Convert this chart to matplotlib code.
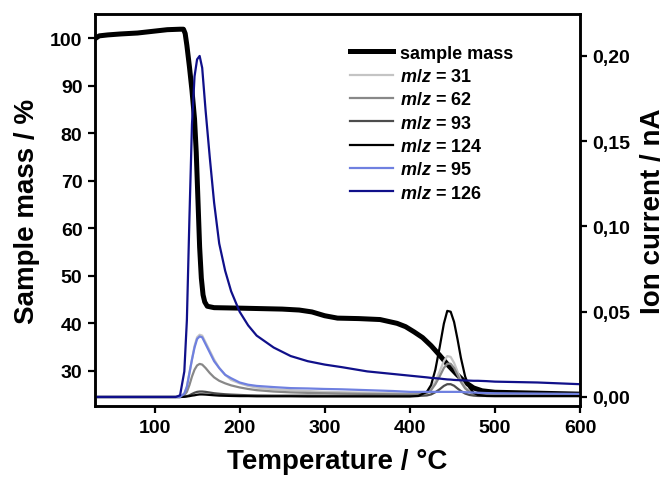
import numpy as np
import matplotlib
matplotlib.use("Agg")
import matplotlib.pyplot as plt

plt.rcParams['font.family'] = ['Liberation Sans', 'DejaVu Sans']
plt.rcParams['font.weight'] = 'bold'
plt.rcParams['mathtext.fontset'] = 'custom'
plt.rcParams['mathtext.it'] = 'Liberation Sans:italic:bold'
plt.rcParams['mathtext.rm'] = 'Liberation Sans:bold'

#
# sample mass (left axis)
#
t_mass = [30, 35, 45, 60, 80, 100, 115, 130, 134, 136, 138, 141, 144, 147, 149, 151, 153, 155,
          157, 159, 162, 170, 200, 250, 270, 285, 300, 315, 340, 365, 385, 395, 405, 415, 425,
          435, 445, 455, 465, 475, 485, 500, 550, 600]
mass = [99.9, 100.5, 100.7, 100.9, 101.1, 101.5, 101.8, 101.9, 101.9, 101.0, 98.5, 94.0, 89.0,
        83.0, 76.0, 66.0, 56.0, 49.5, 46.0, 44.5, 43.6, 43.3, 43.2, 43.0, 42.8, 42.4, 41.6, 41.1,
        41.0, 40.8, 40.0, 39.3, 38.2, 37.0, 35.3, 33.3, 31.2, 29.3, 27.6, 26.4, 25.8, 25.5, 25.3,
        25.1]

#
# ion currents (right axis), shared temperature grid
#
t_ion = [30, 60, 100, 125, 130, 135, 138, 141, 144, 147, 150, 153, 156, 160, 165, 170, 176, 183,
         190, 200, 210, 220, 240, 260, 280, 300, 320, 350, 380, 400, 410, 420, 425, 430, 435, 440,
         444, 448, 452, 456, 460, 465, 470, 475, 480, 490, 500, 550, 600]

mz31 = [0, 0, 0, 0, 0, 0.002, 0.006, 0.014, 0.022, 0.030, 0.035, 0.0365, 0.036, 0.032, 0.027,
        0.022, 0.017, 0.013, 0.010, 0.008, 0.0065, 0.0055, 0.0045, 0.004, 0.0035, 0.003, 0.0028,
        0.0025, 0.0022, 0.002, 0.0022, 0.003, 0.005, 0.009, 0.015, 0.021, 0.024, 0.0235, 0.020,
        0.015, 0.010, 0.006, 0.0035, 0.002, 0.0015, 0.0012, 0.001, 0.001, 0.001]
mz62 = [0, 0, 0, 0, 0, 0.001, 0.003, 0.007, 0.012, 0.016, 0.0185, 0.0194, 0.019, 0.017, 0.014,
        0.0115, 0.0095, 0.008, 0.0068, 0.0056, 0.0047, 0.004, 0.0032, 0.0027, 0.0024, 0.0022,
        0.002, 0.0018, 0.0016, 0.0015, 0.0016, 0.0022, 0.004, 0.0075, 0.012, 0.017, 0.0195,
        0.0195, 0.017, 0.013, 0.0088, 0.005, 0.003, 0.0018, 0.0013, 0.001, 0.001, 0.0009, 0.0008]
mz93 = [0, 0, 0, 0, 0, 0.0002, 0.0005, 0.001, 0.0018, 0.0025, 0.003, 0.0032, 0.0032, 0.003,
        0.0026, 0.0022, 0.0019, 0.0016, 0.0014, 0.0012, 0.001, 0.0009, 0.0008, 0.0008, 0.0008,
        0.0007, 0.0007, 0.0007, 0.0006, 0.0006, 0.0006, 0.0009, 0.0015, 0.0028, 0.0045, 0.0065,
        0.0075, 0.0075, 0.0066, 0.005, 0.0035, 0.002, 0.0012, 0.0008, 0.0006, 0.0006, 0.0006,
        0.0006, 0.0006]
mz124 = [0, 0, 0, 0, 0, 0.0001, 0.0003, 0.0005, 0.0008, 0.001, 0.0013, 0.0015, 0.0015, 0.0014,
         0.0012, 0.001, 0.0008, 0.0007, 0.0006, 0.0005, 0.0005, 0.0004, 0.0004, 0.0004, 0.0003,
         0.0003, 0.0003, 0.0003, 0.0003, 0.0003, 0.0006, 0.003, 0.007, 0.016, 0.029, 0.043,
         0.0505, 0.050, 0.044, 0.034, 0.023, 0.012, 0.0055, 0.0025, 0.0012, 0.0006, 0.0005,
         0.0005, 0.0005]
mz95 = [0, 0, 0, 0, 0, 0.002, 0.006, 0.014, 0.022, 0.029, 0.034, 0.0355, 0.035, 0.031, 0.026,
        0.021, 0.017, 0.013, 0.011, 0.0085, 0.0072, 0.0065, 0.0058, 0.0052, 0.005, 0.0047,
        0.0045, 0.004, 0.0035, 0.003, 0.003, 0.003, 0.003, 0.003, 0.003, 0.003, 0.003, 0.003,
        0.003, 0.003, 0.003, 0.0028, 0.0027, 0.0026, 0.0025, 0.0023, 0.0022, 0.002, 0.0018]
mz126 = [0, 0, 0, 0, 0.001, 0.015, 0.045, 0.105, 0.160, 0.188, 0.198, 0.200, 0.193, 0.168,
         0.140, 0.114, 0.090, 0.074, 0.062, 0.050, 0.042, 0.036, 0.029, 0.024, 0.021, 0.019,
         0.0175, 0.015, 0.0135, 0.0125, 0.012, 0.0115, 0.0112, 0.011, 0.0108, 0.0105, 0.0103,
         0.0102, 0.010, 0.0099, 0.0098, 0.0097, 0.0096, 0.0095, 0.0095, 0.0093, 0.009, 0.0085,
         0.0075]

ion_series = [("31", mz31, "#c4c4c4"), ("62", mz62, "#888888"), ("93", mz93, "#4d4d4d"),
              ("124", mz124, "#000000"), ("95", mz95, "#6f80e0"), ("126", mz126, "#10108a")]

fig = plt.figure(figsize=(6.66, 4.81), dpi=100)
ax = fig.add_axes([0.1426, 0.1538, 0.7283, 0.815])
ax2 = ax.twinx()

h_mass, = ax.plot(t_mass, mass, color="black", lw=3.6, label="sample mass", zorder=3)
handles = [h_mass]
for name, vals, col in ion_series:
    h, = ax2.plot(t_ion, vals, color=col, lw=1.6, label="$m/z$ = " + name)
    handles.append(h)

ax.set_xlim(30, 600)
ax.set_ylim(22.6, 105.1)
ax2.set_ylim(-0.0053, 0.2246)
ax.set_xticks([100, 200, 300, 400, 500, 600])
ax.set_yticks([30, 40, 50, 60, 70, 80, 90, 100])
ax2.set_yticks([0, 0.05, 0.10, 0.15, 0.20])
ax2.set_yticklabels(["0,00", "0,05", "0,10", "0,15", "0,20"])

for a in (ax, ax2):
    for s in a.spines.values():
        s.set_linewidth(1.8)
    a.tick_params(width=1.6, length=5, labelsize=14, direction="out", pad=4)

ax.set_xlabel("Temperature / °C", fontsize=20, fontweight="bold", labelpad=9)
ax.set_ylabel("Sample mass / %", fontsize=20, fontweight="bold", labelpad=7)
ax2.set_ylabel("Ion current / nA", fontsize=20, fontweight="bold", labelpad=7)

ax2.legend(handles=handles, loc="upper left", bbox_to_anchor=(0.526, 0.922), frameon=False,
           borderaxespad=0, borderpad=0, handlelength=2.4, handletextpad=0.35,
           labelspacing=0.35, prop={"weight": "bold", "size": 13})

fig.savefig("out.png", dpi=100)
